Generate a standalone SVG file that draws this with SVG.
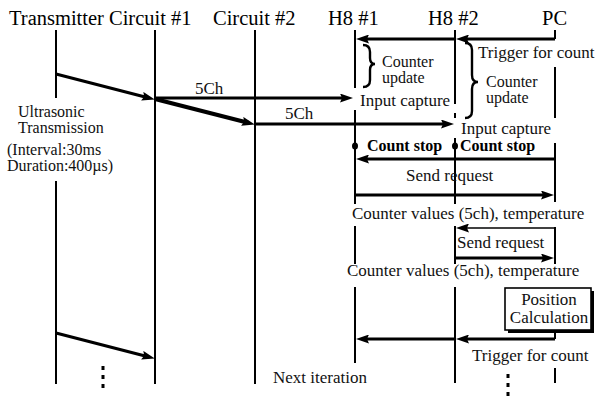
<svg xmlns="http://www.w3.org/2000/svg" width="596" height="403" viewBox="0 0 596 403">
<style>
.hd{font-family:"Liberation Serif","Times New Roman",serif;font-size:20.5px;fill:#000}
.t{font-family:"Liberation Serif","Times New Roman",serif;font-size:17px;fill:#111}
.s{font-family:"Liberation Serif","Times New Roman",serif;font-size:16px;fill:#111}
.b{font-family:"Liberation Serif","Times New Roman",serif;font-size:16px;font-weight:bold;fill:#000}
.ll{stroke:#000;stroke-width:2;fill:none}
.ar{stroke:#000;stroke-width:3.2;fill:none;marker-end:url(#ah)}
.thin{stroke:#000;stroke-width:1.6;fill:none;marker-end:url(#ah)}
.br{stroke:#000;stroke-width:2.4;fill:none}
.dots{stroke:#000;stroke-width:3;stroke-dasharray:4 5;fill:none}
</style>
<defs>
<marker id="ah" markerUnits="userSpaceOnUse" markerWidth="13" markerHeight="9" refX="7" refY="4.5" orient="auto">
<path d="M0,0 L13,4.5 L0,9 L2,4.5 z" fill="#000"/>
</marker>
</defs>
<rect width="596" height="403" fill="#fff"/>
<g id="transmitter">
<text class="hd" x="9" y="25">Transmitter</text>
<path class="ll" d="M56,30V98 M56,181V384"/>
</g>
<g id="circuit1">
<text class="hd" x="109" y="25">Circuit #1</text>
<path class="ll" d="M155,30V384"/>
</g>
<g id="circuit2">
<text class="hd" x="213" y="25">Circuit #2</text>
<path class="ll" d="M255,30V384"/>
</g>
<g id="h8-1">
<text class="hd" x="328" y="25">H8 #1</text>
<path class="ll" d="M355,30V88 M355,110V204 M355,226V264 M355,287V363"/>
</g>
<g id="h8-2">
<text class="hd" x="428" y="25">H8 #2</text>
<path class="ll" d="M455,30V104 M455,113V118 M455,138V204 M455,226V264 M455,287V383"/>
</g>
<g id="pc">
<text class="hd" x="542" y="25">PC</text>
<path class="ll" d="M555,30V39 M555,67V118 M555,143V202 M555,227V264 M555,330V339 M555,368V383"/>
</g>
<g id="position-calculation">
<rect x="508" y="291" width="86" height="42" fill="#000"/>
<rect x="505" y="288" width="86" height="42" fill="#fff" stroke="#000" stroke-width="1.6"/>
<text class="t" x="549" y="305" text-anchor="middle">Position</text>
<text class="t" x="549" y="323" text-anchor="middle">Calculation</text>
</g>
<g id="connectors">
<path class="ar" d="M555,39H462"/>
<path class="ar" d="M455,39H362"/>
<path class="ar" d="M56,74L149,98"/>
<path class="ar" d="M155,98H347"/>
<path class="ar" style="stroke-width:4" d="M155,99L249,123"/>
<path class="ar" d="M255,124H448"/>
<path class="ar" d="M555,159H362"/>
<path class="ar" d="M355,195H548"/>
<path class="thin" d="M555,228H462"/>
<path class="ar" d="M455,258H548"/>
<path class="ar" d="M555,339H462"/>
<path class="ar" d="M455,339H362"/>
<path class="ar" d="M56,333L149,357"/>
<path class="br" d="M363,45Q370,45 370,52V58Q370,64 375,64Q370,64 370,70V80Q370,87 363,87"/>
<path class="br" d="M465,43Q472,43 472,50V75Q472,82 478,82Q472,82 472,89V111Q472,118 465,118"/>
<ellipse cx="355" cy="146" rx="3" ry="3.5" fill="#000"/>
<ellipse cx="455" cy="146" rx="3" ry="3.5" fill="#000"/>
<path class="dots" d="M103,366V392"/>
<path class="dots" d="M508,374V400"/>
</g>
<g id="labels">
<text class="t" x="478" y="58">Trigger for count</text>
<text class="s" x="382" y="67">Counter</text>
<text class="s" x="382" y="83">update</text>
<text class="s" x="486" y="87">Counter</text>
<text class="s" x="486" y="103">update</text>
<text class="t" x="195" y="94">5Ch</text>
<text class="t" x="360" y="106">Input capture</text>
<text class="t" x="285" y="119">5Ch</text>
<text class="t" x="461" y="134">Input capture</text>
<text class="s" x="18" y="117">Ultrasonic</text>
<text class="s" x="18" y="133">Transmission</text>
<text class="s" x="7" y="155">(Interval:30ms</text>
<text class="s" x="7" y="171">Duration:400µs)</text>
<text class="b" x="367" y="151">Count stop</text>
<text class="b" x="460" y="151">Count stop</text>
<text class="t" x="406" y="181">Send request</text>
<text class="t" x="352" y="219">Counter values (5ch), temperature</text>
<text class="t" x="457" y="248">Send request</text>
<text class="t" x="347" y="276">Counter values (5ch), temperature</text>
<text class="t" x="472" y="361">Trigger for count</text>
<text class="t" x="273" y="383">Next iteration</text>
</g>
</svg>
